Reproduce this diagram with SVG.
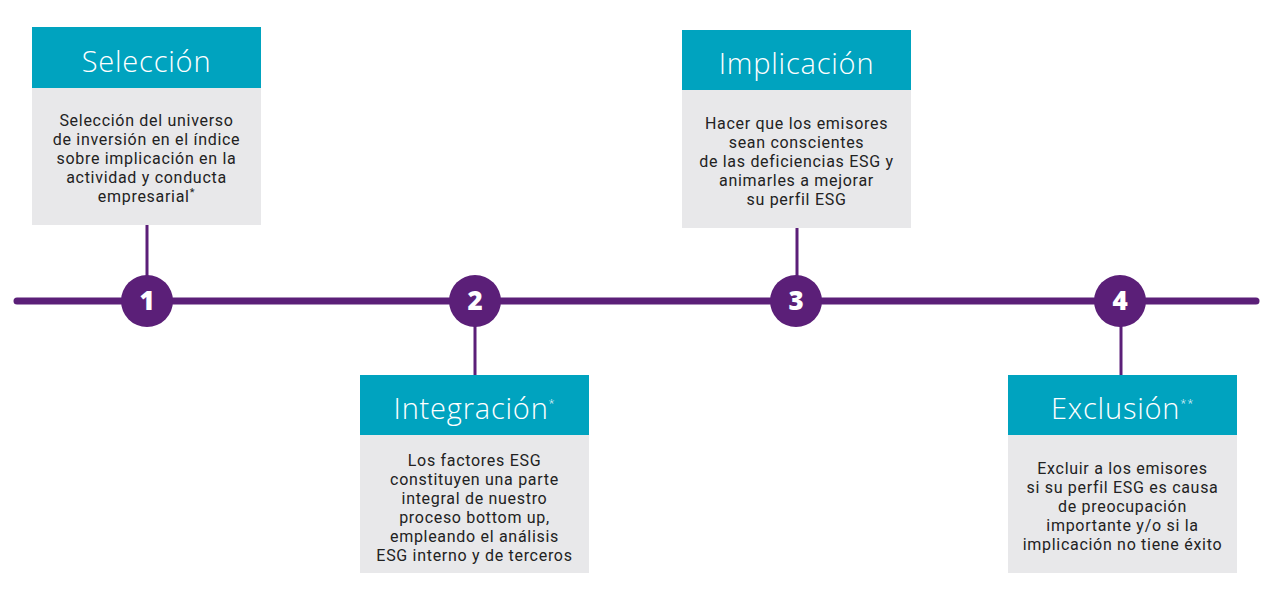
<svg xmlns="http://www.w3.org/2000/svg" width="1280" height="596" viewBox="0 0 1280 596">
<style>
.hdr{fill:#00A3BF}
.body{fill:#E8E8EA}
.ht{font-family:"Open Sans","Liberation Sans",sans-serif;font-weight:300;font-size:29px;letter-spacing:0.8px;fill:#FFFFFF;text-anchor:middle}
.bt{font-family:Roboto,"Liberation Sans",sans-serif;font-size:16px;letter-spacing:0.7px;fill:#222222;text-anchor:middle}
.num{font-family:"Open Sans","Liberation Sans",sans-serif;font-weight:800;font-size:26px;fill:#FFFFFF;text-anchor:middle}
.conn{stroke:#5B1F78;stroke-width:3;fill:none}
.dot{fill:#5B1F78}
.sup{font-size:11px}
</style>
<rect width="1280" height="596" fill="#FFFFFF"/>
<g id="connectors">
<line x1="17" y1="301" x2="1256" y2="301" stroke="#5B1F78" stroke-width="7" stroke-linecap="round"/>
<line class="conn" x1="147" y1="225" x2="147" y2="301"/>
<line class="conn" x1="475" y1="301" x2="475" y2="375"/>
<line class="conn" x1="797" y1="228" x2="797" y2="301"/>
<line class="conn" x1="1121" y1="301" x2="1121" y2="375"/>
</g>
<g id="step1">
<circle class="dot" cx="147" cy="301" r="26"/>
<text class="num" x="147" y="310">1</text>
</g>
<g id="step2">
<circle class="dot" cx="475" cy="301" r="26"/>
<text class="num" x="475" y="310">2</text>
</g>
<g id="step3">
<circle class="dot" cx="796" cy="301" r="26"/>
<text class="num" x="796" y="310">3</text>
</g>
<g id="step4">
<circle class="dot" cx="1120" cy="301" r="26"/>
<text class="num" x="1120" y="310">4</text>
</g>
<g id="seleccion">
<rect class="hdr" x="32" y="27" width="229" height="61"/>
<rect class="body" x="32" y="88" width="229" height="137"/>
<text class="ht" x="146.5" y="72">Selección</text>
<text class="bt" x="146.5" y="126">Selección del universo</text>
<text class="bt" x="146.5" y="145">de inversión en el índice</text>
<text class="bt" x="146.5" y="164">sobre implicación en la</text>
<text class="bt" x="146.5" y="183">actividad y conducta</text>
<text class="bt" x="146.5" y="202">empresarial<tspan class="sup" dy="-6">*</tspan></text>
</g>
<g id="integracion">
<rect class="hdr" x="360" y="375" width="229" height="60"/>
<rect class="body" x="360" y="435" width="229" height="138"/>
<text class="ht" x="474.5" y="419">Integración<tspan class="sup" dy="-12">*</tspan></text>
<text class="bt" x="474.5" y="466">Los factores ESG</text>
<text class="bt" x="474.5" y="485">constituyen una parte</text>
<text class="bt" x="474.5" y="504">integral de nuestro</text>
<text class="bt" x="474.5" y="523">proceso bottom up,</text>
<text class="bt" x="474.5" y="542">empleando el análisis</text>
<text class="bt" x="474.5" y="561">ESG interno y de terceros</text>
</g>
<g id="implicacion">
<rect class="hdr" x="682" y="30" width="229" height="60"/>
<rect class="body" x="682" y="90" width="229" height="138"/>
<text class="ht" x="796.5" y="74">Implicación</text>
<text class="bt" x="796.5" y="129">Hacer que los emisores</text>
<text class="bt" x="796.5" y="148">sean conscientes</text>
<text class="bt" x="796.5" y="167">de las deficiencias ESG y</text>
<text class="bt" x="796.5" y="186">animarles a mejorar</text>
<text class="bt" x="796.5" y="205">su perfil ESG</text>
</g>
<g id="exclusion">
<rect class="hdr" x="1008" y="375" width="229" height="60"/>
<rect class="body" x="1008" y="435" width="229" height="138"/>
<text class="ht" x="1122.5" y="419">Exclusión<tspan class="sup" dy="-12">**</tspan></text>
<text class="bt" x="1122.5" y="474">Excluir a los emisores</text>
<text class="bt" x="1122.5" y="493">si su perfil ESG es causa</text>
<text class="bt" x="1122.5" y="512">de preocupación</text>
<text class="bt" x="1122.5" y="531">importante y/o si la</text>
<text class="bt" x="1122.5" y="550">implicación no tiene éxito</text>
</g>
</svg>
